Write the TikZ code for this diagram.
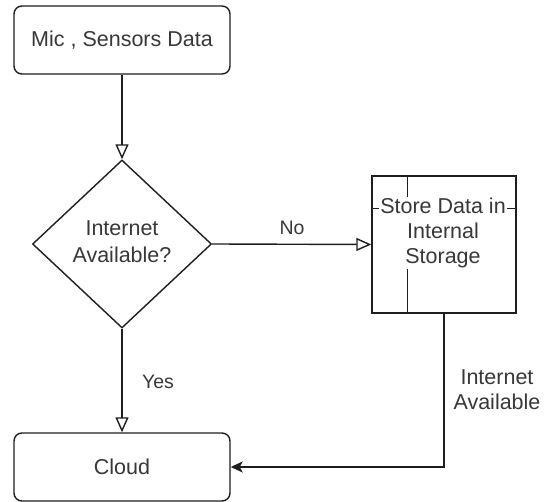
\documentclass[tikz,border=0pt]{standalone}
\usepackage{fontspec}
\setmainfont{Liberation Sans}
\usetikzlibrary{shapes.geometric,arrows.meta}
\definecolor{txt}{HTML}{383838}
\definecolor{ln}{HTML}{1E1E1E}
\tikzset{
  nodefont/.style={font=\fontsize{21.5}{25}\selectfont, text=txt},
  lblfont/.style={font=\fontsize{19.5}{24}\selectfont, text=txt},
  rbox/.style={draw=ln, line width=1.4pt, rounded corners=8pt, nodefont, align=center},
  decision/.style={diamond, draw=ln, line width=1.4pt, nodefont, align=center, inner sep=0pt},
  openarrow/.style={draw=ln, line width=1.4pt, -{Triangle[open, length=15pt, width=13pt, line width=1.4pt]}},
  fillarrow/.style={draw=ln, line width=1.4pt, -{Stealth[length=12pt, width=11pt, inset=3pt]}},
}
\begin{document}
\begin{tikzpicture}[x=1pt, y=-1pt]
\useasboundingbox (0,0) rectangle (547,502);
\fill[white] (0,0) rectangle (547,502);

\node[rbox, minimum width=216pt, minimum height=68pt] (src) at (122,40) {Mic , Sensors Data};
\node[decision, minimum width=179pt, minimum height=168pt] (dec) at (122,244) {};
\node[nodefont, align=center, font=\fontsize{21.5}{27}\selectfont] (dectext) at (122,242) {Internet\\Available?};
\node[draw=ln, line width=1.4pt, minimum width=144pt, minimum height=137pt, inner sep=0pt] (store) at (444,244.5) {};
\draw[ln, line width=1.4pt] ([xshift=36pt]store.north west) -- ([xshift=36pt]store.south west);
\draw[ln, line width=1.4pt] ([yshift=-33pt]store.north west) -- ([yshift=-33pt]store.north east);
\node[fill=white, nodefont, align=center, inner sep=1pt, minimum width=126pt] (storetext) at (443,233) {Store Data in\\Internal\\Storage};
\node[rbox, minimum width=216pt, minimum height=68pt] (cloud) at (122,467) {Cloud};

\draw[openarrow] (src.south) -- (dec.north);
\draw[openarrow] (dec.east) -- (store.west);
\draw[openarrow] (dec.south) -- (cloud.north);
\draw[fillarrow] (store.south) |- (cloud.east);

\node[lblfont] (no) at (292,228) {No};
\node[lblfont] (yes) at (158,382) {Yes};
\node[nodefont, align=center] (ia) at (497,390) {Internet\\Available};
\end{tikzpicture}
\end{document}
